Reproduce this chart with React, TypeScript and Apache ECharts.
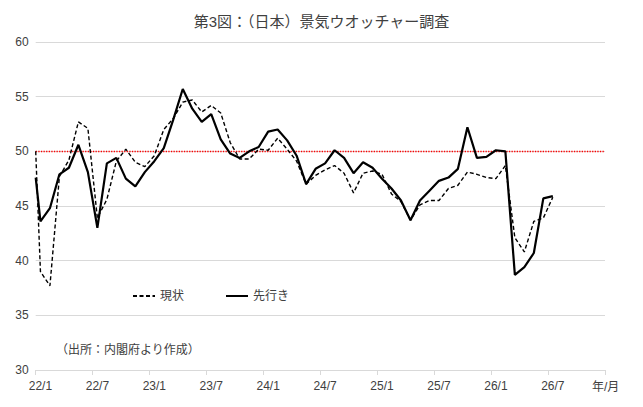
import { useEffect, useRef } from 'react';
import * as echarts from 'echarts';

// x-axis tick labels, one every 6 months
const tickLabels = ['22/1', '22/7', '23/1', '23/7', '24/1', '24/7', '25/1', '25/7', '26/1', '26/7'];

// 現状 (dashed), monthly from 22/1
const currentDI = [
  39.0, 37.7, 47.7, 49.2, 52.7, 52.1, 43.9, 45.6, 49.1, 50.2, 49.0, 48.6,
  49.6, 52.0, 53.0, 54.5, 54.7, 53.6, 54.2, 53.5, 50.8, 49.3, 49.3, 50.2,
  50.1, 51.2, 50.2, 49.1, 47.0, 47.8, 48.3, 48.7, 48.0, 46.2, 48.0, 48.2,
  47.9, 46.1, 45.4, 43.7, 45.1, 45.5, 45.5, 46.6, 46.9, 48.1, 47.9, 47.6,
  47.5, 48.7, 42.1, 40.8, 43.6, 43.9, 45.8,
];

// 先行き (solid), monthly from 22/1
const outlookDI = [
  43.6, 44.8, 47.9, 48.5, 50.6, 48.1, 43.0, 48.9, 49.4, 47.5, 46.8, 48.1,
  49.1, 50.3, 52.9, 55.7, 53.9, 52.7, 53.4, 51.1, 49.8, 49.4, 50.0, 50.4,
  51.8, 52.0, 51.0, 49.6, 47.0, 48.4, 48.9, 50.1, 49.4, 48.0, 49.0, 48.5,
  47.5, 46.6, 45.5, 43.7, 45.5, 46.4, 47.3, 47.6, 48.4, 52.2, 49.4, 49.5,
  50.1, 50.0, 38.7, 39.4, 40.7, 45.7, 45.9,
];

// where each line enters at the left edge of the plot
const edgeCurrent = 50.0;
const edgeOutlook = 47.6;

const refLevel = 50;

const months = tickLabels.length * 6;

function toPoints(edge: number, values: number[]) {
  return [[-0.5, edge], ...values.map((v, i) => [i, v])];
}

const jp = '"Liberation Sans", "Noto Sans CJK JP", sans-serif';
const textColor = '#404040';
const gridColor = '#d9d9d9';

export default function App() {
  const chartRef = useRef<HTMLDivElement>(null);

  useEffect(() => {
    const chart = echarts.init(chartRef.current, null, { renderer: 'svg' });
    chart.setOption({
      animation: false,
      backgroundColor: '#fff',
      textStyle: { fontFamily: jp },
      title: {
        text: '第3図：（日本）景気ウオッチャー調査',
        left: 'center',
        top: 9,
        textStyle: { fontSize: 15, fontWeight: 'normal', color: textColor, fontFamily: jp },
      },
      grid: { left: 35.7, right: 38, top: 42, bottom: 37, containLabel: false },
      legend: {
        left: 127,
        top: 285,
        itemWidth: 22,
        itemHeight: 12,
        itemGap: 41,
        itemStyle: { opacity: 0 },
        textStyle: { fontSize: 12, color: textColor, fontFamily: jp },
        data: ['現状', '先行き'],
      },
      xAxis: {
        type: 'value',
        min: -0.5,
        max: months - 0.5,
        splitLine: { show: false },
        axisLine: { show: true, lineStyle: { color: gridColor } },
        axisTick: {
          show: true,
          length: 5,
          lineStyle: { color: gridColor },
          customValues: Array.from({ length: tickLabels.length + 1 }, (_, k) => k * 6 - 0.5),
        },
        axisLabel: {
          fontSize: 12,
          color: textColor,
          margin: 10,
          customValues: tickLabels.map((_, k) => k * 6),
          formatter: (v: number) => tickLabels[Math.round(v / 6)] ?? '',
        },
      },
      yAxis: {
        type: 'value',
        min: 30,
        max: 60,
        interval: 5,
        axisLine: { show: false },
        axisTick: { show: false },
        splitLine: { lineStyle: { color: gridColor, width: 1 } },
        axisLabel: { fontSize: 12, color: textColor, margin: 7 },
      },
      series: [
        {
          name: '現状',
          type: 'line',
          symbol: 'none',
          data: toPoints(edgeCurrent, currentDI),
          lineStyle: { color: '#000', width: 1.4, type: [4, 2.5] },
          itemStyle: { color: '#000' },
          z: 3,
        },
        {
          name: '先行き',
          type: 'line',
          symbol: 'none',
          data: toPoints(edgeOutlook, outlookDI),
          lineStyle: { color: '#000', width: 2.2 },
          itemStyle: { color: '#000' },
          z: 4,
          markLine: {
            silent: true,
            symbol: 'none',
            label: { show: false },
            lineStyle: { color: '#ff0000', type: 'dotted', width: 1.3 },
            data: [{ yAxis: refLevel }],
            z: 2,
          },
        },
      ],
      graphic: [
        {
          type: 'text',
          left: 56,
          top: 344,
          style: { text: '（出所：内閣府より作成）', fontSize: 12, fill: textColor, fontFamily: jp },
        },
        {
          type: 'text',
          left: 592,
          top: 381,
          style: { text: '年/月', fontSize: 12, fill: textColor, fontFamily: jp },
        },
      ],
    });
    return () => {
      chart.dispose();
    };
  }, []);

  return (
    <div
      ref={chartRef}
      style={{ position: 'absolute', left: 0, top: 0, width: '643px', height: '407px' }}
    />
  );
}
